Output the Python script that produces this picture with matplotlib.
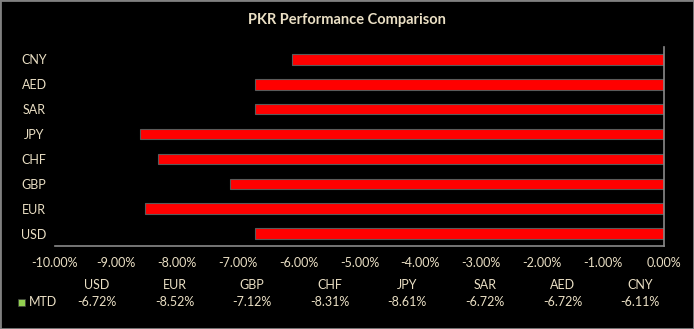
import numpy as np
import matplotlib
matplotlib.use("Agg")
import matplotlib.pyplot as plt

# data, bottom to top as drawn
CURRENCIES = ["USD", "EUR", "GBP", "CHF", "JPY", "SAR", "AED", "CNY"]
MTD = [-6.72, -8.52, -7.12, -8.31, -8.61, -6.72, -6.72, -6.11]
XTICKS = [-10, -9, -8, -7, -6, -5, -4, -3, -2, -1, 0]

TXT = "#eadfc4"
RED = "#ff0000"
GREEN = "#92d050"
GREY = "#8a8a8a"
FS = 9

plt.rcParams["font.family"] = ["Lato", "DejaVu Sans"]

fig = plt.figure(figsize=(6.94, 3.29), dpi=100, facecolor="black")
ax = fig.add_axes([55 / 694, 1 - 246 / 329, 609 / 694, 199 / 329], facecolor="black")

y = np.arange(len(CURRENCIES))
ax.barh(y, MTD, height=0.42, color=RED, edgecolor="#5a5a5a", linewidth=0.8)

ax.set_xlim(-10, 0)
ax.set_ylim(-0.5, len(CURRENCIES) - 0.5)
ax.set_xticks(XTICKS)
ax.set_xticklabels([f"{v:.2f}%" for v in XTICKS], color=TXT, fontsize=FS)
ax.set_yticks(y)
ax.set_yticklabels(CURRENCIES, color=TXT, fontsize=FS, ha="center")
ax.tick_params(axis="y", length=0, pad=15)
ax.tick_params(axis="x", length=0, pad=8)
for s in ("left", "top"):
    ax.spines[s].set_visible(False)
for s in ("right", "bottom"):
    ax.spines[s].set_color(GREY)
    ax.spines[s].set_linewidth(1.2)

fig.text(0.5, 1 - 20 / 329, "PKR Performance Comparison", color=TXT,
         fontsize=10.5, fontweight="bold", ha="center", va="center")

# data table under the axis
for i, (c, v) in enumerate(zip(CURRENCIES, MTD)):
    xf = 0.069 + i * 0.1274
    ax.text(xf, -39 / 199, c, transform=ax.transAxes, color=TXT, fontsize=FS,
            ha="center", va="center")
    ax.text(xf, -56 / 199, f"{v:.2f}%", transform=ax.transAxes, color=TXT,
            fontsize=FS, ha="center", va="center")
fig.patches.append(plt.Rectangle((18 / 694, 1 - 306 / 329), 7 / 694, 7 / 329,
                                 transform=fig.transFigure, facecolor=GREEN,
                                 edgecolor="#404040", linewidth=0.5))
fig.text(29 / 694, 1 - 302 / 329, "MTD", color=TXT, fontsize=FS, va="center")

# outer border
fig.patches.append(plt.Rectangle((0, 0), 1, 1, transform=fig.transFigure,
                                 fill=False, edgecolor="#808080", linewidth=2))

fig.savefig("out.png", dpi=100, facecolor="black")
